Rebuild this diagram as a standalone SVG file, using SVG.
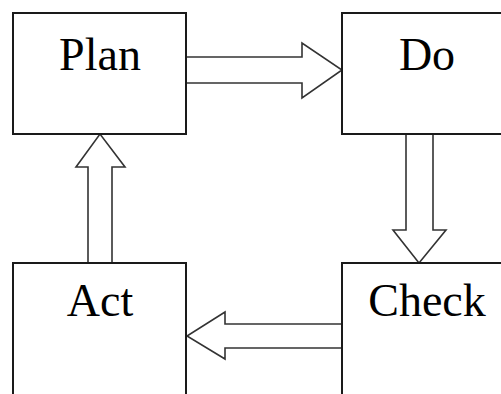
<svg xmlns="http://www.w3.org/2000/svg" width="501" height="394" viewBox="0 0 501 394">
<style>
.box{fill:#fff;stroke:#1a1a1a;stroke-width:2}
.arr{fill:#fff;stroke:#333;stroke-width:1.6;stroke-linejoin:miter}
.lbl{font-family:"Liberation Serif","Times New Roman",serif;font-size:46px;fill:#000;text-anchor:middle}
</style>
<rect width="501" height="394" fill="#fff"/>
<g id="connectors">
<polygon class="arr" points="186,57 302,57 302,43 342,70 302,98 302,83 186,83"/>
<polygon class="arr" points="406,134 433,134 433,230 446,230 419,263 393,230 406,230"/>
<polygon class="arr" points="342,324 225,324 225,312 187,336 225,359 225,348 342,348"/>
<polygon class="arr" points="88,263 88,167 76,167 100,134 125,167 112,167 112,263"/>
</g>
<g id="plan"><rect class="box" x="13" y="13" width="173" height="121"/><text class="lbl" x="100" y="70">Plan</text></g>
<g id="do"><rect class="box" x="342" y="13" width="170" height="121"/><text class="lbl" x="427" y="70">Do</text></g>
<g id="check"><rect class="box" x="342" y="263" width="170" height="140"/><text class="lbl" x="427" y="316">Check</text></g>
<g id="act"><rect class="box" x="13" y="263" width="173" height="140"/><text class="lbl" x="100" y="316">Act</text></g>
</svg>
